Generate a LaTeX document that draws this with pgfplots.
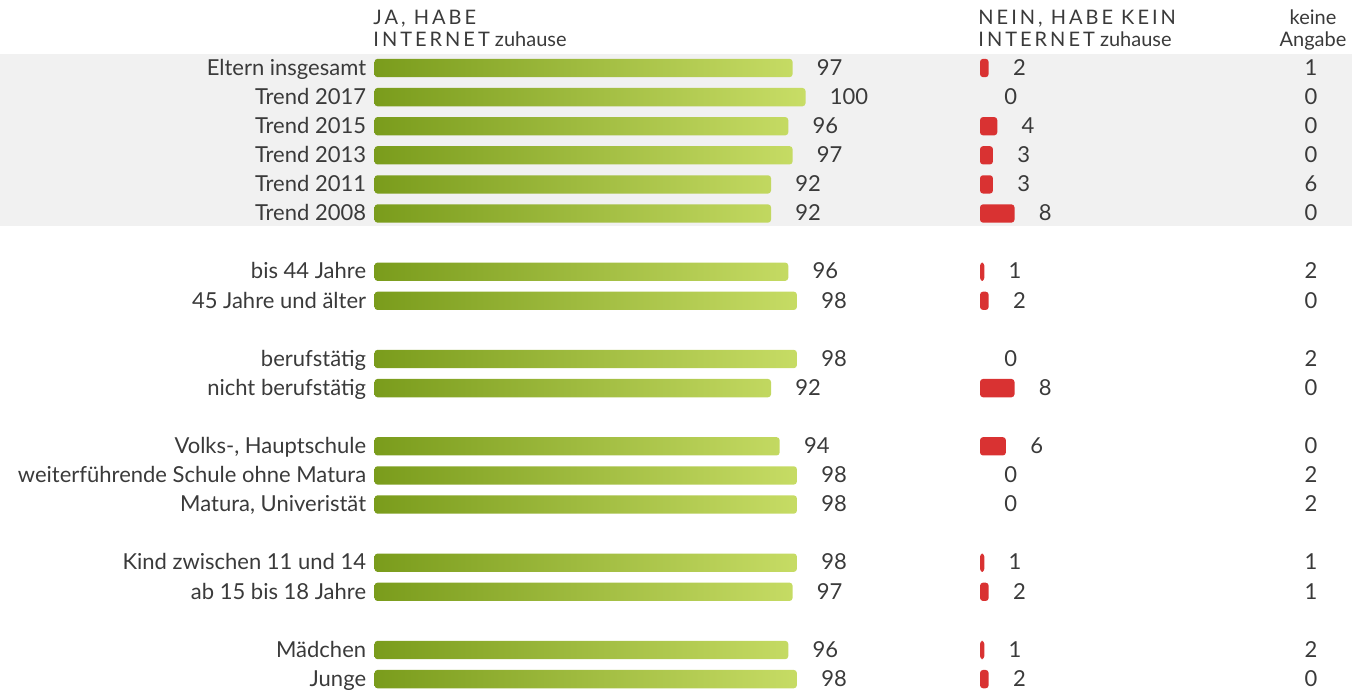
\documentclass[border=0pt]{standalone}
\usepackage{pgfplots}
\pgfplotsset{compat=1.18}
\usepackage{pgfplotstable}
\usepackage{fontspec}
\setmainfont{Lato}
\newfontfamily\hdr[LetterSpace=15]{Lato}
\definecolor{txt}{HTML}{3A3A3A}
\definecolor{gdark}{HTML}{7A9C1C}
\definecolor{glight}{HTML}{C8DD66}
\definecolor{rbar}{HTML}{D93232}
\definecolor{band}{HTML}{F1F1F1}

\pgfplotstableread{
row ja nein ka
0 97 2 1
1 100 0 0
2 96 4 0
3 97 3 0
4 92 3 6
5 92 8 0
7 96 1 2
8 98 2 0
10 98 0 2
11 92 8 0
13 94 6 0
14 98 0 2
15 98 0 2
17 98 1 1
18 97 2 1
20 96 1 2
21 98 2 0
}\data

\newcommand{\bodyfont}{\fontsize{11}{13}\selectfont}

\pgfplotsset{
  common/.style={
    anchor=north west,
    x=2.155pt, y=14.55pt,
    ymin=-0.5, ymax=21.5, y dir=reverse,
    clip=false,
    axis line style={draw=none},
    major tick style={draw=none},
    xtick=\empty,
    /pgf/number format/assume math mode=true,
  },
  vals/.style={
    nodes near coords,
    every node near coord/.append style={anchor=west, inner sep=0pt, xshift=12pt, font=\bodyfont, text=txt, text height=0.72em, text depth=0pt},
  },
}

\begin{document}
\begin{tikzpicture}
\begin{scope}[x=0.5pt,y=-0.5pt]
\path (0,0) rectangle (1352,692);
\fill[band] (0,54.3) rectangle (1352,225.7);
\node[anchor=base west, inner sep=0pt, text=txt, font=\fontsize{10}{12}\selectfont] at (373,24.3) {\hdr JA, HABE};
\node[anchor=base west, inner sep=0pt, text=txt, font=\fontsize{10}{12}\selectfont] at (373,46.7) {{\hdr INTERNET} zuhause};
\node[anchor=base west, inner sep=0pt, text=txt, font=\fontsize{10}{12}\selectfont] at (978,24.3) {\hdr NEIN, HABE KEIN};
\node[anchor=base west, inner sep=0pt, text=txt, font=\fontsize{10}{12}\selectfont] at (978,46.7) {{\hdr INTERNET} zuhause};
\node[anchor=base, inner sep=0pt, text=txt, font=\fontsize{10}{12}\selectfont] at (1313,24.3) {keine};
\node[anchor=base, inner sep=0pt, text=txt, font=\fontsize{10}{12}\selectfont] at (1313,46.7) {Angabe};
\end{scope}

\begin{axis}[common,
  at={(187.25pt,-26.725pt)},
  xmin=0, xmax=100,
  ytick={0,1,2,3,4,5,7,8,10,11,13,14,15,17,18,20,21},
  yticklabels={Eltern insgesamt, Trend 2017, Trend 2015, Trend 2013, Trend 2011, Trend 2008,
    bis 44 Jahre, 45 Jahre und älter, berufstätig, nicht berufstätig,
    {Volks-, Hauptschule}, weiterführende Schule ohne Matura, {Matura, Univeristät},
    Kind zwischen 11 und 14, ab 15 bis 18 Jahre, Mädchen, Junge},
  yticklabel style={font=\bodyfont, text=txt, inner sep=0pt, xshift=-4pt, text height=0.72em, text depth=0pt},
]
\addplot[xbar, bar width=9.15pt, bar shift=0pt, draw=none, left color=gdark, right color=glight,
  rounded corners=1.5pt, vals] table[x=ja, y=row] {\data};
\end{axis}

\begin{axis}[common,
  at={(490pt,-26.725pt)},
  xmin=0, xmax=80,
  ytick=\empty,
]
\addplot[xbar, bar width=9.15pt, bar shift=0pt, draw=none, fill=rbar,
  rounded corners=1.5pt, x filter/.expression={x==0 ? nan : x}]
  table[x=nein, y=row] {\data};
\addplot[draw=none, mark=none, point meta=x, vals] table[x=nein, y=row] {\data};
\addplot[draw=none, mark=none, nodes near coords, point meta=explicit,
  every node near coord/.append style={anchor=center, inner sep=0pt, font=\bodyfont, text=txt, text height=0.72em, text depth=0pt}]
  table[x expr=76.8, y=row, meta=ka] {\data};
\end{axis}
\end{tikzpicture}
\end{document}
